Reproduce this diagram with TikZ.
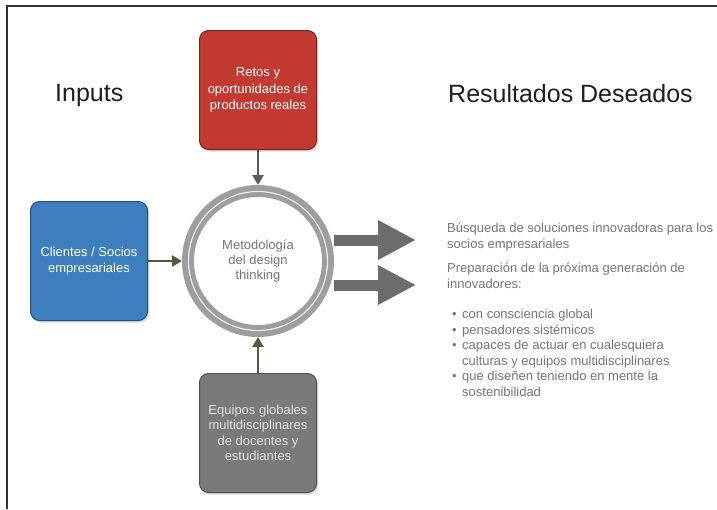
\documentclass[tikz,border=0pt]{standalone}
\usepackage{fontspec}
\setmainfont{Liberation Sans}
\usepackage{tikz}
\usetikzlibrary{positioning,arrows.meta,shadows}
\definecolor{retored}{RGB}{194,58,50}
\definecolor{retoredline}{RGB}{122,36,32}
\definecolor{sociosblue}{RGB}{60,126,190}
\definecolor{sociosblueline}{RGB}{36,82,128}
\definecolor{equiposgray}{RGB}{122,122,122}
\definecolor{equiposgrayline}{RGB}{80,80,80}
\definecolor{oliveline}{RGB}{88,88,56}
\definecolor{darkarrow}{RGB}{90,90,90}
\definecolor{arrowgray}{RGB}{108,108,108}
\definecolor{ringgray}{RGB}{158,158,158}
\definecolor{textgray}{RGB}{118,118,118}
\definecolor{framegray}{RGB}{50,50,50}
\newcommand{\itm}[1]{\makebox[15pt][l]{\hspace{5pt}\textbullet}#1}

\begin{document}
\begin{tikzpicture}[x=1pt, y=-1pt, node distance=35pt, >=Triangle,
        box/.style={rectangle, rounded corners=9pt, minimum width=117pt, minimum height=119pt, line width=1pt, align=center, font=\fontsize{13}{15.5}\selectfont, drop shadow={opacity=0.3, shadow xshift=1.5pt, shadow yshift=-2pt}},
        metodo/.style={circle, draw=ringgray, line width=12pt, minimum size=140pt, fill=white, align=center, text=textgray, font=\fontsize{13}{15}\selectfont},
        inarrow/.style={line width=2.5pt, -{Triangle[length=10pt,width=11pt]}},
        bigarrow/.style={draw=arrowgray, line width=11pt, -{Triangle[length=38pt,width=37pt]}},
        titulo/.style={anchor=base west, inner sep=0pt, text=black!88, font=\fontsize{25}{28}\selectfont},
        restext/.style={anchor=north west, inner sep=0pt, align=left, text=textgray, font=\fontsize{13}{15.5}\selectfont}]
    \useasboundingbox (0,0) rectangle (717,509);
    \draw[framegray, line width=1.5pt] (7,509) -- (7,6) -- (717,6);

    \node[titulo] (inputs) at (55,101) {Inputs};
    \node[titulo] (resultados) at (448,102) {Resultados Deseados};

    \node[metodo]                                          (circ)    at (258,261) {Metodología\\del design\\thinking};
    \draw[white!80!ringgray, line width=1.2pt] (circ.center) circle (69.5pt);
    \node[box, fill=retored, draw=retoredline, text=white, font=\fontsize{13}{16.5}\selectfont] (retos) [above=35pt of circ] {Retos y\\oportunidades de\\productos reales};
    \node[box, fill=sociosblue, draw=sociosblueline, text=white] (socios) [left=34pt of circ] {Clientes / Socios\\empresariales};
    \node[box, fill=equiposgray, draw=equiposgrayline, text=white!88!black] (equipos) [below=36pt of circ] {Equipos globales\\multidisciplinares\\de docentes y\\estudiantes};

    \draw[inarrow, darkarrow] (retos) -- (circ);
    \draw[inarrow, oliveline] (socios) -- (circ);
    \draw[inarrow, oliveline] (equipos) -- (circ);

    \coordinate (salida1) at (416,240);
    \coordinate (salida2) at (416,285);
    \draw[bigarrow] (circ.east |- salida1) -- (salida1);
    \draw[bigarrow] (circ.east |- salida2) -- (salida2);

    \node[restext] (busqueda)    at (447,223) {Búsqueda de soluciones innovadoras para los\\socios empresariales};
    \node[restext] (preparacion) at (447,263) {Preparación de la próxima generación de\\innovadores:};
    \node[restext] (rasgos) at (447,309)
        {\itm{con consciencia global}\\\itm{pensadores sistémicos}\\\itm{capaces de actuar en cualesquiera}\\\hspace*{15pt}culturas y equipos multidisciplinares\\\itm{que diseñen teniendo en mente la}\\\hspace*{15pt}sostenibilidad};
\end{tikzpicture}
\end{document}
